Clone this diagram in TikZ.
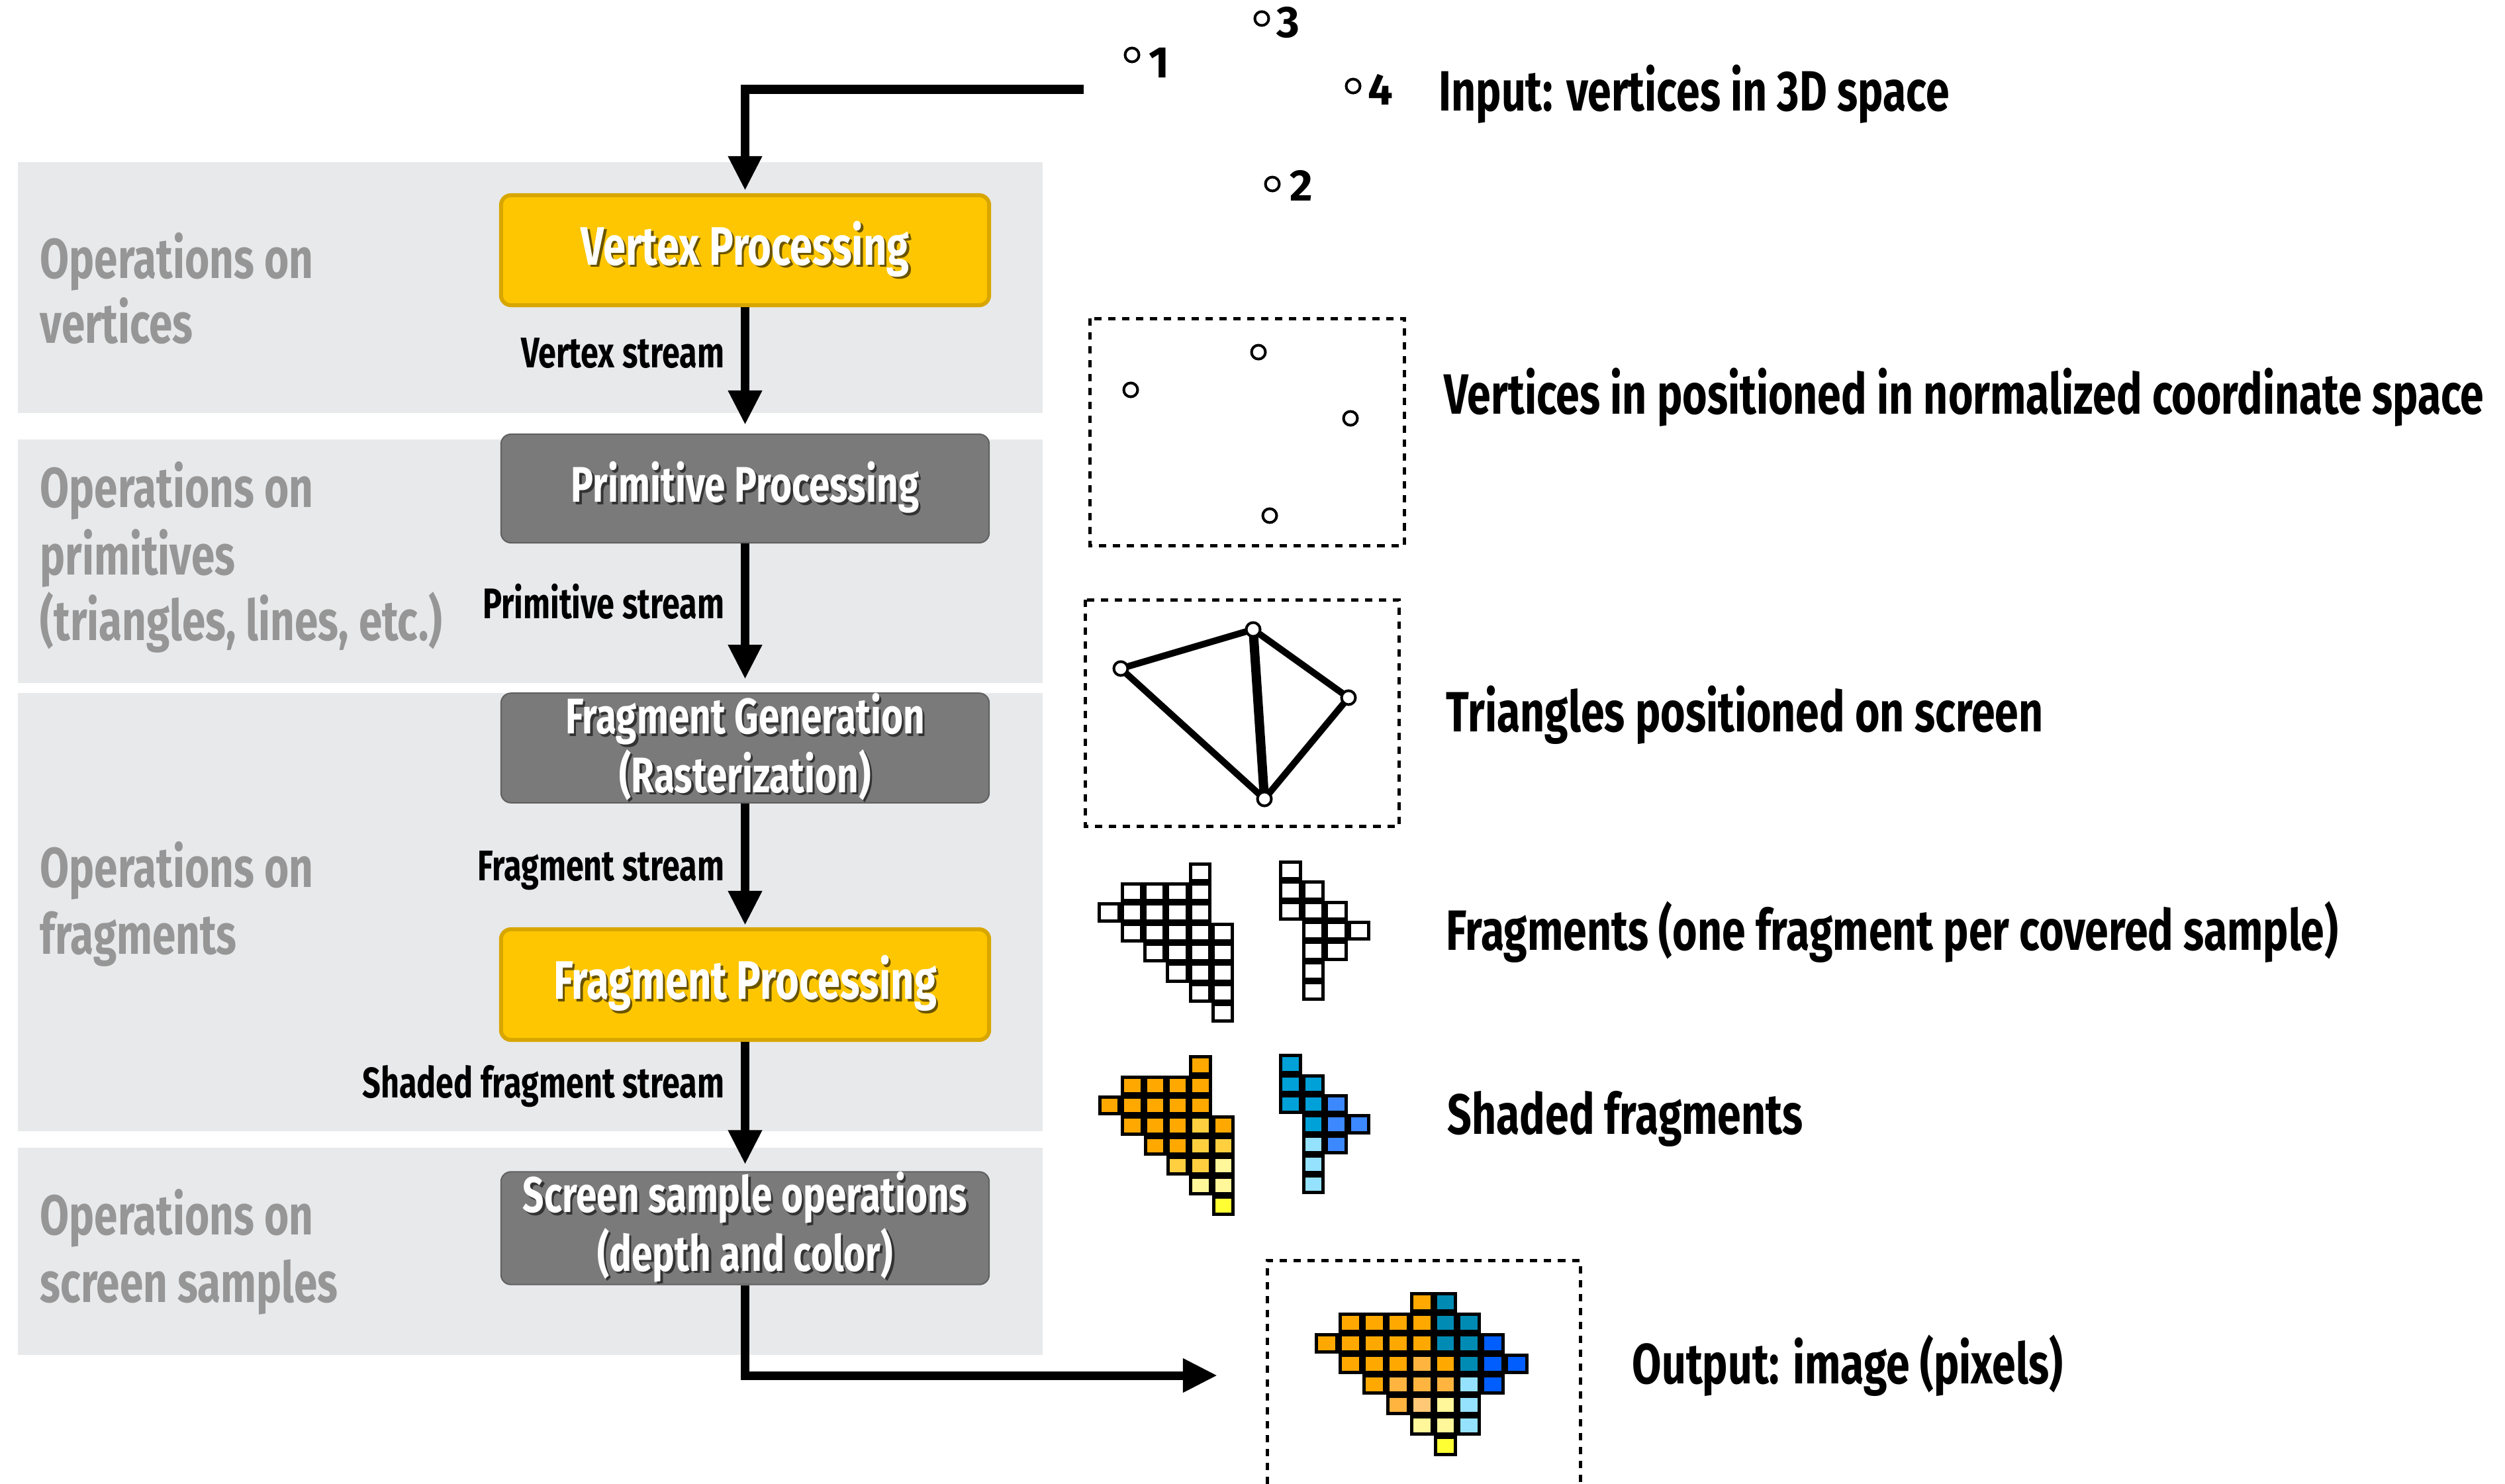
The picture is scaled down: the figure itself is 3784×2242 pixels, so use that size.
\documentclass[tikz,border=0pt]{standalone}
\usepackage{fontspec}
\setmainfont{Fira Sans}[FakeStretch=0.75]
\newfontfamily\digfont{Fira Sans}
\usetikzlibrary{arrows.meta}
\definecolor{bandgray}{HTML}{E8E9EB}
\definecolor{opgray}{HTML}{969696}
\definecolor{ylfill}{HTML}{FDC600}
\definecolor{ylborder}{HTML}{D8A600}
\definecolor{grfill}{HTML}{7A7A7A}
\definecolor{grborder}{HTML}{606060}
\definecolor{ylshadow}{HTML}{6A5400}
\definecolor{grshadow}{HTML}{333333}
\definecolor{oA}{HTML}{FFA800}
\definecolor{oB}{HTML}{FFCF3F}
\definecolor{oC}{HTML}{FFB43F}
\definecolor{pO}{HTML}{FFC877}
\definecolor{pY}{HTML}{FFF799}
\definecolor{yY}{HTML}{FFFF33}
\definecolor{cB}{HTML}{00A0D8}
\definecolor{tB}{HTML}{008BB4}
\definecolor{bB}{HTML}{3C88FF}
\definecolor{dB}{HTML}{005EFF}
\definecolor{lB}{HTML}{95E2FF}
\newcommand\descfont{\bfseries\fontsize{24.4pt}{28pt}\selectfont}
\newcommand\opfont{\bfseries\fontsize{24.2pt}{28.5pt}\selectfont}
\newcommand\boxfont{\bfseries\fontsize{21.5pt}{23.6pt}\selectfont}
\newcommand\ylboxfont{\bfseries\fontsize{23.3pt}{26pt}\selectfont}
\newcommand\streamfont{\bfseries\fontsize{18.4pt}{21pt}\selectfont}
\newcommand\numfont{\digfont\bfseries\fontsize{19pt}{22pt}\selectfont}
\newcommand\shd[2]{\leavevmode\rlap{\kern0.035cm\raisebox{-0.035cm}{\textcolor{#1}{#2}}}#2}
\tikzset{
  ylbox/.style={draw=ylborder, line width=0.06cm, fill=ylfill, rounded corners=0.15cm,
    minimum width=7.37cm, text=white, align=center, font=\ylboxfont, inner sep=0},
  grbox/.style={draw=grborder, line width=0.02cm, fill=grfill, rounded corners=0.15cm,
    minimum width=7.37cm, text=white, align=center, font=\boxfont, inner sep=0},
  oplabel/.style={anchor=base west, inner sep=0, text=opgray, font=\opfont},
  streamlbl/.style={anchor=base east, inner sep=0, font=\streamfont},
  desc/.style={anchor=base west, inner sep=0, font=\descfont},
  numlbl/.style={anchor=base west, inner sep=0, font=\numfont},
  flow/.style={line width=0.13cm, -{Triangle[width=0.48cm,length=0.52cm]}},
  dashbox/.style={line width=0.05cm, dash pattern=on 0.11cm off 0.1cm},
  dot/.style={circle, draw, fill=white, line width=0.04cm, inner sep=0, minimum size=0.21cm},
}
\begin{document}
\begin{tikzpicture}[x=0.01cm,y=-0.01cm]
\useasboundingbox (0,0) rectangle (3784,2242);
% bands
\fill[bandgray] (27,245) rectangle (1575,624);
\fill[bandgray] (27,664) rectangle (1575,1032);
\fill[bandgray] (27,1047) rectangle (1575,1709);
\fill[bandgray] (27,1734) rectangle (1575,2047);
% band labels
\node[oplabel] (op1a) at (60,420) {Operations on};
\node[oplabel] (op1b) at (60,518) {vertices};
\node[oplabel] (op2a) at (60,766) {Operations on};
\node[oplabel] (op2b) at (60,868) {primitives};
\node[oplabel] (op2c) at (60,967) {(triangles, lines, etc.)};
\node[oplabel] (op3a) at (60,1340) {Operations on};
\node[oplabel] (op3b) at (60,1441) {fragments};
\node[oplabel] (op4a) at (60,1865) {Operations on};
\node[oplabel] (op4b) at (60,1967) {screen samples};
% pipeline boxes
\node[ylbox, minimum height=1.66cm] (vp) at (1125.5,378) {\shd{ylshadow}{Vertex Processing}};
\node[grbox, minimum height=1.64cm] (pp) at (1125.5,738) {\shd{grshadow}{Primitive Processing}};
\node[grbox, minimum height=1.62cm] (fg) at (1125.5,1130) {\shd{grshadow}{Fragment Generation}\\\shd{grshadow}{(Rasterization)}};
\node[ylbox, minimum height=1.67cm] (fp) at (1125.5,1487.5) {\shd{ylshadow}{Fragment Processing}};
\node[grbox, minimum height=1.69cm] (ss) at (1125.5,1855.5) {\shd{grshadow}{Screen sample operations}\\\shd{grshadow}{(depth and color)}};
% stream labels
\node[streamlbl] (ls1) at (1095,555) {Vertex stream};
\node[streamlbl] (ls2) at (1095,934) {Primitive stream};
\node[streamlbl] (ls3) at (1095,1330) {Fragment stream};
\node[streamlbl] (ls4) at (1095,1658) {Shaded fragment stream};
% arrows
\coordinate (inp) at (1637,135);
\coordinate (outp) at (1839,2078);
\draw[flow, shorten >=0.04cm] (inp) -| (vp.north);
\draw[flow, shorten >=0.13cm] (vp.south) -- (pp.north);
\draw[flow, shorten >=0.2cm] (pp.south) -- (fg.north);
\draw[flow, shorten >=0.03cm] (fg.south) -- (fp.north);
\draw[flow, shorten >=0.1cm] (fp.south) -- (ss.north);
\draw[flow] (ss.south) |- (outp);
% input vertices
\node[dot] (i1) at (1710,83) {};
\node[dot] (i3) at (1906,28) {};
\node[dot] (i4) at (2044,130) {};
\node[dot] (i2) at (1922,278) {};
\node[numlbl] (n1) at (1735,117) {1};
\node[numlbl] (n3) at (1928,57) {3};
\node[numlbl] (n4) at (2066,158) {4};
\node[numlbl] (n2) at (1948,303) {2};
% normalized box
\draw[dashbox] (1646,481) rectangle (2121,824);
\node[dot] (d1) at (1708,589) {};
\node[dot] (d3) at (1901,532) {};
\node[dot] (d4) at (2040,632) {};
\node[dot] (d2) at (1918,779) {};
% triangles box
\draw[dashbox] (1639,906) rectangle (2113,1248);
\coordinate (ta) at (1693,1010);
\coordinate (tb) at (1893,951);
\coordinate (tc) at (2037,1054);
\coordinate (td) at (1910,1207);
\draw[line width=0.1cm, line join=round] (ta) -- (tb) -- (tc) -- (td) -- cycle;
\draw[line width=0.14cm] (tb) -- (td);
\node[dot] (t1) at (ta) {};
\node[dot] (t2) at (tb) {};
\node[dot] (t3) at (tc) {};
\node[dot] (t4) at (td) {};
% fragments (white)
\foreach \r/\c in {0/4,1/1,1/2,1/3,1/4,2/0,2/1,2/2,2/3,2/4,3/1,3/2,3/3,3/4,3/5,4/2,4/3,4/4,4/5,5/3,5/4,5/5,6/4,6/5,7/5}{
  \fill[black] ({1658.3+\c*34.3},{1302.7+\r*30.3}) rectangle ++(34.3,30.3);
  \fill[white] ({1658.3+\c*34.3+5},{1302.7+\r*30.3+5}) rectangle ++(24.3,20.3);
}
\foreach \r/\c in {0/0,1/0,1/1,2/0,2/1,2/2,3/1,3/2,3/3,4/1,4/2,5/1,6/1}{
  \fill[black] ({1932.3+\c*34.5},{1300+\r*30.3}) rectangle ++(34.5,30.3);
  \fill[white] ({1932.3+\c*34.5+5},{1300+\r*30.3+5}) rectangle ++(24.5,20.3);
}
% shaded fragments
\foreach \r/\c/\k in {0/4/oA,1/1/oA,1/2/oA,1/3/oA,1/4/oA,2/0/oA,2/1/oA,2/2/oA,2/3/oA,2/4/oA,3/1/oA,3/2/oA,3/3/oA,3/4/oB,3/5/oA,4/2/oA,4/3/oA,4/4/oB,4/5/oB,5/3/oB,5/4/oB,5/5/pY,6/4/pY,6/5/pY,7/5/yY}{
  \fill[black] ({1659+\c*34.3},{1594.3+\r*30.3}) rectangle ++(34.3,30.3);
  \fill[\k] ({1659+\c*34.3+5},{1594.3+\r*30.3+5}) rectangle ++(24.3,20.3);
}
\foreach \r/\c/\k in {0/0/cB,1/0/cB,1/1/cB,2/0/cB,2/1/cB,2/2/bB,3/1/cB,3/2/bB,3/3/bB,4/1/lB,4/2/bB,5/1/lB,6/1/lB}{
  \fill[black] ({1932.3+\c*34.5},{1592.3+\r*30.3}) rectangle ++(34.5,30.3);
  \fill[\k] ({1932.3+\c*34.5+5},{1592.3+\r*30.3+5}) rectangle ++(24.5,20.3);
}
% output image
\draw[dashbox] (1914,2242) -- (1914,1904) -- (2387,1904) -- (2387,2242);
\foreach \r/\c/\k in {0/4/oA,0/5/tB,1/1/oA,1/2/oA,1/3/oA,1/4/oA,1/5/tB,1/6/tB,2/0/oA,2/1/oA,2/2/oA,2/3/oA,2/4/oA,2/5/tB,2/6/tB,2/7/dB,3/1/oA,3/2/oA,3/3/oA,3/4/oC,3/5/oA,3/6/tB,3/7/dB,3/8/dB,4/2/oA,4/3/oC,4/4/oC,4/5/oC,4/6/lB,4/7/dB,5/3/oC,5/4/pO,5/5/pY,5/6/lB,6/4/pY,6/5/pY,6/6/lB,7/5/yY}{
  \fill[black] ({1986+\c*35.9},{1952+\r*31}) rectangle ++(35.9,31);
  \fill[\k] ({1986+\c*35.9+5},{1952+\r*31+5}) rectangle ++(25.9,21);
}
% descriptions
\node[desc] (t_in) at (2173,167) {Input: vertices in 3D space};
\node[desc] (t_nd) at (2181,625) {Vertices in positioned in normalized coordinate space};
\node[desc] (t_tr) at (2184,1105) {Triangles positioned on screen};
\node[desc] (t_fr) at (2184,1435) {Fragments (one fragment per covered sample)};
\node[desc] (t_sh) at (2186,1713) {Shaded fragments};
\node[desc] (t_out) at (2465,2090) {Output: image (pixels)};
\end{tikzpicture}
\end{document}
